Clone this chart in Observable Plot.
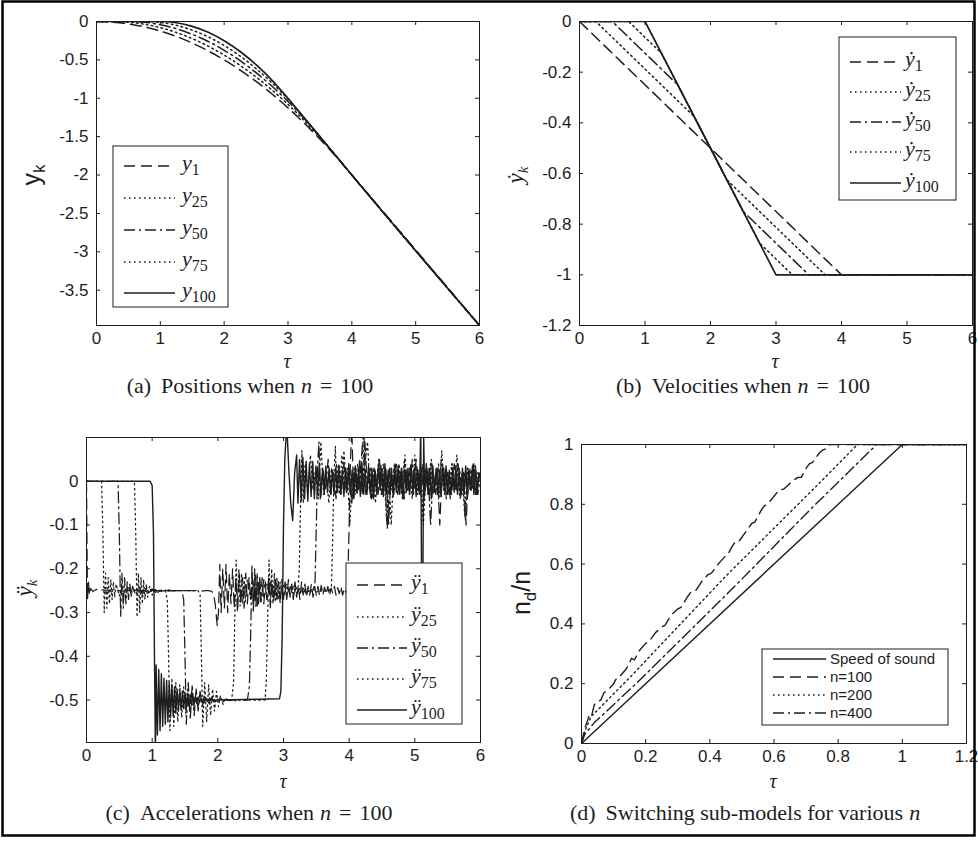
<!DOCTYPE html>
<html><head><meta charset="utf-8">
<script src="https://cdn.jsdelivr.net/npm/d3@7"></script>
<script src="https://cdn.jsdelivr.net/npm/@observablehq/plot@0.6"></script>
<style>
html,body{margin:0;padding:0;background:#fff;}
#page{position:relative;width:978px;height:841px;overflow:hidden;background:#fff;}
#page svg{position:absolute;left:0;top:0;}
</style></head><body><div id="page"></div>
<script>
// ---------- DATA ----------
// (a) positions
const tauPos = [0,0.25,0.5,0.75,1,1.25,1.5,1.75,2,2.25,2.5,2.75,3,3.25,3.5,3.75,4,6];
const yPos1   = [0,-0.008,-0.031,-0.07,-0.125,-0.195,-0.281,-0.383,-0.5,-0.633,-0.781,-0.945,-1.125,-1.32,-1.531,-1.758,-2.0,-3.96];
const yPos25  = [0,0,-0.009,-0.036,-0.08,-0.143,-0.223,-0.321,-0.438,-0.571,-0.723,-0.893,-1.08,-1.286,-1.509,-1.75,-2.0,-3.96];
const yPos50  = [0,0,0,-0.01,-0.042,-0.094,-0.167,-0.26,-0.375,-0.51,-0.667,-0.844,-1.042,-1.26,-1.5,-1.75,-2.0,-3.96];
const yPos75  = [0,0,0,0,-0.013,-0.05,-0.113,-0.2,-0.313,-0.45,-0.613,-0.8,-1.013,-1.25,-1.5,-1.75,-2.0,-3.96];
const yPos100 = [0,0,0,0,0,-0.016,-0.063,-0.141,-0.25,-0.391,-0.563,-0.766,-1.0,-1.25,-1.5,-1.75,-2.0,-3.96];

// (b) velocities
const velT1 = [0,4,6],                    vel1 = [0,-1,-1];
const velT25 = [0,0.25,1.75,2.25,3.75,6], vel25 = [0,0,-0.375,-0.625,-1,-1];
const velT50 = [0,0.5,1.5,2.5,3.5,6],     vel50 = [0,0,-0.25,-0.75,-1,-1];
const velT75 = [0,0.75,1.25,2.75,3.25,6], vel75 = [0,0,-0.125,-0.875,-1,-1];
const velT100 = [0,1,3,6],                vel100 = [0,0,-1,-1];

// (c) accelerations: [tau, value] pairs and uniform runs {t0, dt, v}
const acc1 = [
  [0,0],[0.005,-0.1],[0.015,-0.27],[0.03,-0.23],[0.045,-0.26],[0.06,-0.245],
  {t0:0.1, dt:0.05, v:[-0.252,-0.247,-0.252,-0.248,-0.251,-0.249,-0.252,-0.248,-0.25,-0.251,-0.249,-0.25,-0.251,-0.249,-0.25,-0.25,-0.251,-0.249,-0.25,-0.25,-0.25,-0.251,-0.25,-0.249,-0.25,-0.25,-0.25,-0.25,-0.25,-0.25,-0.25,-0.25,-0.25,-0.251,-0.25,-0.25,-0.251]},
  [1.93,-0.255],[1.96,-0.28],[1.99,-0.33],[2.01,-0.3],[2.03,-0.19],
  {t0:2.05, dt:0.025, v:[-0.3,-0.2,-0.29,-0.19,-0.3,-0.21,-0.28,-0.2,-0.29,-0.22,-0.3,-0.21,-0.28,-0.22,-0.29,-0.21,-0.28,-0.22,-0.27,
    -0.22,-0.28,-0.215,-0.285,-0.225,-0.275,-0.22,-0.28,-0.23,-0.27,-0.22,-0.285,-0.23,-0.275,-0.225,-0.27,-0.23,-0.28,-0.225,-0.27,
    -0.23,-0.27,-0.225,-0.265,-0.235,-0.27,-0.23,-0.265,-0.24,-0.27,-0.23,-0.26,-0.235,-0.265,-0.24,-0.26,-0.235,-0.265,-0.24,-0.26,
    -0.24,-0.262,-0.238,-0.26,-0.242,-0.258,-0.24,-0.262,-0.244,-0.256,-0.24,-0.26,-0.243,-0.257,-0.24,-0.26,-0.245,-0.255]},
  [3.98,-0.22],[4.0,-0.1],[4.02,0.05],[4.04,0.12],[4.07,-0.04],
  {t0:4.1, dt:0.04, v:[0.03,-0.02,0.04,0.12,-0.03,0.02,-0.04,0.03,-0.02,0.05,-0.03,0.02,-0.11,0.03,-0.02,0.04,-0.03,0.02,-0.04,0.03,-0.02,0.04,-0.03,0.05,-0.02,0.03,-0.04,0.02,-0.03,0.04,-0.02,0.03,-0.1,0.04,-0.03,0.02,-0.04,0.03,-0.02,0.04,-0.03,0.02,-0.1,0.03,-0.02,0.04,-0.03,0.01]}
];
const acc25 = [
  [0,0],[0.23,0],[0.25,-0.12],[0.27,-0.3],[0.29,-0.21],[0.31,-0.29],[0.33,-0.22],[0.35,-0.28],[0.37,-0.225],[0.39,-0.27],[0.41,-0.23],[0.43,-0.265],
  {t0:0.45, dt:0.05, v:[-0.235,-0.262,-0.24,-0.258,-0.243,-0.256,-0.245,-0.255,-0.246,-0.254,-0.247,-0.253,-0.248,-0.252,-0.249,-0.251,-0.249,-0.251,-0.25,-0.25,-0.25,-0.25,-0.25,-0.25,-0.25]},
  [1.7,-0.25],[1.73,-0.26],[1.75,-0.4],[1.77,-0.56],[1.8,-0.46],[1.83,-0.55],[1.86,-0.465],[1.89,-0.535],[1.92,-0.475],[1.95,-0.525],[1.98,-0.48],[2.01,-0.515],[2.04,-0.49],[2.08,-0.51],[2.12,-0.495],[2.17,-0.503],[2.21,-0.5],[2.24,-0.46],[2.26,-0.3],[2.28,-0.18],[2.3,-0.29],[2.32,-0.2],[2.34,-0.285],[2.36,-0.21],[2.38,-0.28],[2.4,-0.22],[2.42,-0.275],
  {t0:2.45, dt:0.05, v:[-0.225,-0.27,-0.23,-0.268,-0.232,-0.265,-0.235,-0.262,-0.238,-0.26,-0.24,-0.26,-0.24,-0.258,-0.242,-0.256,-0.244,-0.256,-0.245,-0.255,-0.246,-0.254,-0.247,-0.253,-0.25]},
  [3.7,-0.25],[3.73,-0.24],[3.75,-0.12],[3.77,0.02],[3.79,0.08],[3.81,-0.03],
  {t0:3.84, dt:0.04, v:[0.04,-0.03,0.07,-0.02,0.03,-0.04,0.02,-0.03,0.05,-0.02,0.04,0.09,-0.03,0.02,-0.05,0.03,-0.02,0.04,-0.03,0.02,-0.1,0.03,-0.02,0.04,-0.03,0.05,-0.02,0.03,-0.04,0.06,-0.03,0.02,-0.09,0.03,-0.02,0.04,-0.03,0.02,-0.04,0.05,-0.02,0.03,-0.03,0.04,-0.02,0.06,-0.03,0.02,-0.08,0.03,-0.02,0.04,-0.03,0.02,0.0]}
];
const acc50 = [
  [0,0],[0.48,0],[0.5,-0.12],[0.52,-0.31],[0.54,-0.21],[0.56,-0.29],[0.58,-0.22],[0.6,-0.28],[0.62,-0.23],[0.64,-0.27],[0.66,-0.235],[0.68,-0.265],
  {t0:0.7, dt:0.05, v:[-0.24,-0.26,-0.242,-0.258,-0.245,-0.255,-0.246,-0.254,-0.248,-0.252,-0.249,-0.251,-0.25,-0.25,-0.25]},
  [1.45,-0.25],[1.48,-0.27],[1.5,-0.4],[1.52,-0.555],[1.55,-0.46],[1.58,-0.545],[1.61,-0.465],[1.64,-0.535],[1.67,-0.475],[1.7,-0.525],[1.73,-0.48],[1.76,-0.515],[1.8,-0.49],[1.85,-0.508],[1.9,-0.495],[1.95,-0.504],
  {t0:2.0, dt:0.05, v:[-0.498,-0.502,-0.499,-0.501,-0.5,-0.5,-0.5,-0.5,-0.5]},
  [2.45,-0.5],[2.48,-0.47],[2.5,-0.35],[2.52,-0.19],[2.54,-0.3],[2.56,-0.2],[2.58,-0.29],[2.6,-0.21],[2.62,-0.28],[2.64,-0.22],[2.66,-0.275],
  {t0:2.7, dt:0.05, v:[-0.225,-0.27,-0.23,-0.265,-0.235,-0.262,-0.238,-0.26,-0.24,-0.258,-0.243,-0.256,-0.245,-0.254,-0.25]},
  [3.45,-0.25],[3.48,-0.23],[3.5,-0.1],[3.52,0.04],[3.54,0.09],[3.56,-0.04],
  {t0:3.6, dt:0.04, v:[0.03,-0.02,0.05,-0.03,0.02,-0.04,0.03,-0.02,0.04,-0.03,0.02,-0.05,0.03,-0.02,0.04,-0.03,0.09,-0.02,0.03,-0.04,0.02,-0.03,0.04,-0.02,0.03,-0.1,0.02,-0.03,0.04,-0.02,0.03,-0.04,0.02,-0.03,0.05,-0.02,0.03,-0.03,0.04,-0.02,0.03,-0.1,0.02,-0.03,0.04,-0.02,0.03,-0.04,0.02,-0.03,0.04,-0.02,0.03,-0.03,0.02,-0.04,0.03,-0.02,0.04,-0.03,0.01]}
];
const acc75 = [
  [0,0],[0.73,0],[0.75,-0.12],[0.77,-0.31],[0.79,-0.21],[0.81,-0.3],[0.83,-0.22],[0.85,-0.28],[0.87,-0.225],[0.89,-0.27],[0.91,-0.235],[0.93,-0.265],
  {t0:0.96, dt:0.04, v:[-0.24,-0.26,-0.244,-0.256,-0.247,-0.252]},
  [1.2,-0.25],[1.23,-0.27],[1.25,-0.4],[1.27,-0.57],[1.3,-0.45],[1.33,-0.56],[1.36,-0.46],[1.39,-0.55],[1.42,-0.465],[1.45,-0.54],[1.48,-0.47],[1.51,-0.53],[1.54,-0.475],[1.57,-0.525],[1.6,-0.48],[1.63,-0.52],[1.66,-0.485],[1.7,-0.515],[1.74,-0.49],[1.78,-0.51],
  {t0:1.82, dt:0.05, v:[-0.492,-0.508,-0.494,-0.506,-0.495,-0.505,-0.497,-0.503,-0.498,-0.502,-0.499,-0.501,-0.5,-0.5,-0.5,-0.5,-0.5,-0.5]},
  [2.72,-0.5],[2.74,-0.45],[2.76,-0.3],[2.78,-0.18],[2.8,-0.29],[2.82,-0.2],[2.84,-0.28],[2.86,-0.21],[2.88,-0.275],[2.9,-0.22],[2.92,-0.27],
  {t0:2.95, dt:0.05, v:[-0.23,-0.265,-0.235,-0.26,-0.24,-0.255]},
  [3.22,-0.25],[3.24,-0.2],[3.26,-0.05],[3.28,0.07],[3.3,-0.05],
  {t0:3.33, dt:0.04, v:[0.04,-0.03,0.06,-0.02,0.03,-0.04,0.09,-0.03,0.02,-0.05,0.03,-0.02,0.04,-0.03,0.06,-0.02,0.03,-0.1,0.02,-0.03,0.04,-0.02,0.09,-0.03,0.02,-0.04,0.03,-0.02,0.05,-0.03,0.02,-0.09,0.03,-0.02,0.04,-0.03,0.02,-0.04,0.06,-0.02,0.03,-0.03,0.04,-0.02,0.03,-0.1,0.02,-0.03,0.05,-0.02,0.03,-0.04,0.07,-0.03,0.02,-0.03,0.04,-0.02,0.03,-0.04,0.02,-0.09,0.03,-0.02,0.04,-0.03,0.01]}
];
const acc100 = [
  [0,0],[0.97,0],[1.0,-0.01],[1.02,-0.12],[1.035,-0.4],[1.05,-0.63],
  {t0:1.06, dt:0.02, v:[-0.42,-0.58,-0.43,-0.57,-0.44,-0.56,-0.45,-0.555,-0.455,-0.55,-0.46,-0.54,-0.465,-0.535,-0.47,-0.53,-0.475,-0.525,-0.478,-0.522,-0.48,-0.52,-0.483,-0.517,-0.486,-0.514,-0.488,-0.512,-0.49,-0.51,-0.492,-0.508,-0.493,-0.506,-0.495,-0.505,-0.496,-0.504,-0.497,-0.503,-0.498,-0.502,-0.499,-0.501,-0.499,-0.501,-0.5,-0.5]},
  [2.2,-0.499],[2.6,-0.498],[2.94,-0.497],[2.96,-0.48],[2.98,-0.35],[3.0,-0.1],[3.02,0.05],[3.05,0.13],[3.08,0.03],[3.11,-0.05],[3.14,-0.09],[3.17,0.02],[3.2,0.06],[3.22,-0.05],
  {t0:3.245, dt:0.025, v:[0.05,-0.045,0.055,-0.04,0.045,-0.045,0.04,-0.035,0.045,-0.04,0.035,-0.03,0.04,-0.035,0.03,-0.03,0.035,-0.025,0.03,-0.03,0.025,-0.03,0.03,-0.025,0.035,-0.03,0.025,-0.035,0.03,-0.02,0.04,-0.03,0.025,-0.04,0.035,-0.025,0.03,-0.035,0.04,-0.03,0.02,-0.03,0.035,-0.025,0.03,-0.04,0.025,-0.03,0.035,-0.02,0.03,-0.035,0.04,-0.03,0.025,-0.03,0.03,-0.035,0.02,-0.025,0.035,-0.03,0.03,-0.04,0.025,-0.025,0.03,-0.03,0.035,-0.02,0.03,-0.035,0.025,-0.03]},
  [5.09,0.12],[5.105,-0.3],[5.12,-0.3],[5.135,0.1],[5.15,-0.03],
  {t0:5.175, dt:0.025, v:[0.04,-0.03,0.03,-0.04,0.035,-0.025,0.03,-0.03,0.025,-0.035,0.03,-0.02,0.035,-0.03,0.025,-0.03,0.03,-0.025,0.035,-0.03,0.02,-0.035,0.03,-0.025,0.035,-0.03,0.025,-0.02,0.03,-0.03,0.025,-0.03,0.02,0.01]}
];

// (d) switching sub-models
const ndSound = [[0,0],[1,1],[1.2,1]];
const nd100 = [[0,0],[0.01,0.05],[0.02,0.08],[0.026,0.1],[0.032,0.095],[0.04,0.13],[0.05,0.14],[0.06,0.145],[0.07,0.17],[0.08,0.175],[0.1,0.2],[0.11,0.22],[0.12,0.225],[0.14,0.25],[0.156,0.285],[0.165,0.28],[0.18,0.31],[0.2,0.335],[0.21,0.34],[0.23,0.37],[0.25,0.39],[0.26,0.395],[0.28,0.43],[0.3,0.45],[0.31,0.455],[0.33,0.49],[0.34,0.505],[0.355,0.51],[0.38,0.55],[0.395,0.565],[0.405,0.57],[0.43,0.605],[0.447,0.625],[0.455,0.63],[0.47,0.66],[0.48,0.675],[0.49,0.675],[0.52,0.72],[0.53,0.735],[0.54,0.74],[0.56,0.78],[0.57,0.795],[0.58,0.8],[0.61,0.84],[0.62,0.85],[0.63,0.85],[0.66,0.88],[0.675,0.89],[0.685,0.89],[0.7,0.92],[0.71,0.935],[0.72,0.94],[0.74,0.97],[0.75,0.98],[0.76,0.985],[0.775,1.0],[1.2,1.0]];
const nd200 = [[0,0],[0.01,0.04],[0.03,0.09],[0.15,0.22],[0.3,0.39],[0.45,0.56],[0.6,0.72],[0.75,0.88],[0.86,1.0],[1.2,1.0]];
const nd400 = [[0,0],[0.01,0.03],[0.04,0.07],[0.17,0.2],[0.35,0.39],[0.5,0.55],[0.72,0.79],[0.92,1.0],[1.2,1.0]];

// ticks
const ticks0to6 = [0,1,2,3,4,5,6];
const yTicksA = [0,-0.5,-1,-1.5,-2,-2.5,-3,-3.5];
const yTicksB = [0,-0.2,-0.4,-0.6,-0.8,-1,-1.2];
const yTicksC = [0,-0.1,-0.2,-0.3,-0.4,-0.5];
const xTicksD = [0,0.2,0.4,0.6,0.8,1,1.2];
const yTicksD = [0,0.2,0.4,0.6,0.8,1];

// legend labels
const legKs = ["1","25","50","75","100"];
const legD = ["Speed of sound","n=100","n=200","n=400"];

// ---------- STYLE ----------
const INK = "#1e1e1e";
const DASH = "11,6", DOT = "1.6,3.4", DASHDOT = "11,4,2,4";
const styleK = [
  {dash: DASH, w: 1.5},
  {dash: DOT, w: 1.5},
  {dash: DASHDOT, w: 1.5},
  {dash: DOT, w: 1.5},
  {dash: null, w: 1.7}
];

// ---------- HELPERS ----------
const W = 978, H = 841;
const zip = (t, v) => t.map((d, i) => ({t: d, v: v[i]}));
const pairs = arr => arr.map(([t, v]) => ({t, v}));
function expand(pieces) {
  const out = [];
  for (const p of pieces) {
    if (Array.isArray(p)) out.push({t: p[0], v: p[1]});
    else p.v.forEach((v, i) => out.push({t: +(p.t0 + i * p.dt).toFixed(4), v}));
  }
  return out;
}
const fmt = d => String(d);

function panel({x0, x1, y0, y1, xDomain, yDomain, xTicks, yTicks, lines, curve = "linear"}) {
  const iw = x1 - x0, ih = y1 - y0, tk = 4;
  const lineMarks = lines.map(({data, dash, w}) => Plot.line(data, {
    x: "t", y: "v", stroke: INK, strokeWidth: w, strokeDasharray: dash || undefined,
    curve, clip: true
  }));
  return Plot.plot({
    width: W, height: H,
    marginLeft: x0, marginRight: W - x1, marginTop: y0, marginBottom: H - y1,
    style: {background: "transparent", fontFamily: "'Liberation Sans', Arial, sans-serif", fontSize: "17px", color: INK, overflow: "visible"},
    x: {domain: xDomain},
    y: {domain: yDomain},
    marks: [
      ...lineMarks,
      Plot.frame({stroke: INK, strokeWidth: 1}),
      Plot.tickX(xTicks, {x: d => d, insetTop: ih - tk, stroke: INK}),
      Plot.tickX(xTicks, {x: d => d, insetBottom: ih - tk, stroke: INK}),
      Plot.tickY(yTicks, {y: d => d, insetRight: iw - tk, stroke: INK}),
      Plot.tickY(yTicks, {y: d => d, insetLeft: iw - tk, stroke: INK}),
      Plot.axisX({ticks: xTicks, tickSize: 0, tickPadding: 6, tickFormat: fmt, label: null, fill: INK}),
      Plot.axisY({ticks: yTicks, tickSize: 0, tickPadding: 8, tickFormat: fmt, label: null, fill: INK})
    ]
  });
}

const page = document.getElementById("page");

// (a)
page.appendChild(panel({
  x0: 96, x1: 479, y0: 21, y1: 325, xDomain: [0, 6], yDomain: [-3.96, 0],
  xTicks: ticks0to6, yTicks: yTicksA, curve: "monotone-x",
  lines: [yPos1, yPos25, yPos50, yPos75, yPos100].map((ys, i) => ({data: zip(tauPos, ys), ...styleK[i]}))
}));
// (b)
page.appendChild(panel({
  x0: 579, x1: 972, y0: 21, y1: 325, xDomain: [0, 6], yDomain: [-1.2, 0],
  xTicks: ticks0to6, yTicks: yTicksB,
  lines: [[velT1, vel1], [velT25, vel25], [velT50, vel50], [velT75, vel75], [velT100, vel100]].map(([t, v], i) => ({data: zip(t, v), ...styleK[i]}))
}));
// (c)
page.appendChild(panel({
  x0: 86, x1: 480, y0: 437, y1: 742, xDomain: [0, 6], yDomain: [-0.597, 0.1],
  xTicks: ticks0to6, yTicks: yTicksC,
  lines: [acc1, acc25, acc50, acc75, acc100].map((a, i) => ({data: expand(a), dash: styleK[i].dash, w: i === 4 ? 1.4 : 1.25}))
}));
// (d)
page.appendChild(panel({
  x0: 581, x1: 966, y0: 444, y1: 743, xDomain: [0, 1.2], yDomain: [0, 1],
  xTicks: xTicksD, yTicks: yTicksD,
  lines: [
    {data: pairs(ndSound), dash: null, w: 1.4},
    {data: pairs(nd100), dash: DASH, w: 1.4},
    {data: pairs(nd200), dash: DOT, w: 1.4},
    {data: pairs(nd400), dash: DASHDOT, w: 1.4}
  ]
}));

// ---------- OVERLAY (labels, legends, captions, border) ----------
const ov = d3.select(page).append("svg").attr("width", W).attr("height", H);
const SERIF = "'Liberation Serif', 'Times New Roman', serif";
const SANS = "'Liberation Sans', Arial, sans-serif";

ov.append("rect").attr("x", 2.5).attr("y", 1.5).attr("width", 972).attr("height", 834)
  .attr("fill", "none").attr("stroke", "#000").attr("stroke-width", 2.5);

// axis titles tau
[[287, 368], [775, 368], [283, 788], [773, 788]].forEach(([x, y]) => {
  ov.append("text").attr("x", x).attr("y", y).attr("text-anchor", "middle")
    .attr("font-family", SERIF).attr("font-style", "italic").attr("font-size", 20).attr("fill", INK).text("τ");
});

// y labels
function yLabel(x, y, parts, family, size) {
  const t = ov.append("text").attr("transform", `translate(${x},${y}) rotate(-90)`)
    .attr("text-anchor", "middle").attr("font-family", family).attr("font-size", size).attr("fill", INK);
  parts.forEach(p => {
    const s = t.append("tspan").text(p.s);
    if (p.italic) s.attr("font-style", "italic");
    if (p.dy) s.attr("dy", p.dy);
    if (p.size) s.attr("font-size", p.size);
  });
}
yLabel(40, 175, [{s: "y"}, {s: "k", dy: 5, size: 17}], SANS, 25);
yLabel(523, 175, [{s: "\u1E8F", italic: true}, {s: "k", italic: true, dy: 5, size: 15}], SERIF, 23);
yLabel(32, 588, [{s: "\u00FF", italic: true}, {s: "k", italic: true, dy: 5, size: 15}], SERIF, 23);
yLabel(530, 593, [{s: "n"}, {s: "d", dy: 6, size: 17}, {s: "/n", dy: -6}], SANS, 25);

// legends
function legendMath(box, rows, lx0, lx1, tx, base) {
  ov.append("rect").attr("x", box[0]).attr("y", box[1]).attr("width", box[2]).attr("height", box[3])
    .attr("fill", "#fff").attr("stroke", INK).attr("stroke-width", 1);
  rows.forEach((ry, i) => {
    const st = styleK[i];
    ov.append("line").attr("x1", lx0).attr("x2", lx1).attr("y1", ry).attr("y2", ry)
      .attr("stroke", INK).attr("stroke-width", st.w).attr("stroke-dasharray", st.dash);
    const t = ov.append("text").attr("x", tx).attr("y", ry + 4).attr("font-family", SERIF).attr("font-size", 22).attr("fill", INK);
    t.append("tspan").attr("font-style", "italic").text(base);
    t.append("tspan").attr("font-size", 16).attr("dy", 5).text(legKs[i]);
  });
}
legendMath([113, 146, 115, 161], [166, 198, 230, 262, 293], 124, 175, 182, "y");
legendMath([839, 37, 117, 163], [62, 92, 122, 152, 183], 850, 901, 905, "\u1E8F");
legendMath([346, 563, 116, 161], [585, 617, 648, 679, 710], 357, 407, 411, "\u00FF");

// legend (d)
ov.append("rect").attr("x", 762).attr("y", 649).attr("width", 186).attr("height", 76)
  .attr("fill", "#fff").attr("stroke", INK).attr("stroke-width", 1);
const dStyles = [null, DASH, DOT, DASHDOT];
[659, 677, 695, 713].forEach((ry, i) => {
  ov.append("line").attr("x1", 773).attr("x2", 826).attr("y1", ry).attr("y2", ry)
    .attr("stroke", INK).attr("stroke-width", 1.4).attr("stroke-dasharray", dStyles[i]);
  ov.append("text").attr("x", 830).attr("y", ry + 5).attr("font-family", SANS).attr("font-size", 15).attr("fill", INK).text(legD[i]);
});

// captions
function caption(cx, y, label, before, italic, after) {
  const t = ov.append("text").attr("x", cx).attr("y", y).attr("text-anchor", "middle")
    .attr("font-family", SERIF).attr("font-size", 22).attr("fill", INK);
  t.append("tspan").text(label);
  t.append("tspan").attr("dx", 10).text(before);
  t.append("tspan").attr("font-style", "italic").attr("dx", 6).text(italic);
  if (after) {
    t.append("tspan").attr("dx", 8).text("=");
    t.append("tspan").attr("dx", 8).text(after);
  }
}
caption(250, 393, "(a)", "Positions when", "n", "100");
caption(743, 393, "(b)", "Velocities when", "n", "100");
caption(249, 820, "(c)", "Accelerations when", "n", "100");
caption(745, 820, "(d)", "Switching sub-models for various", "n", null);
</script></body></html>
